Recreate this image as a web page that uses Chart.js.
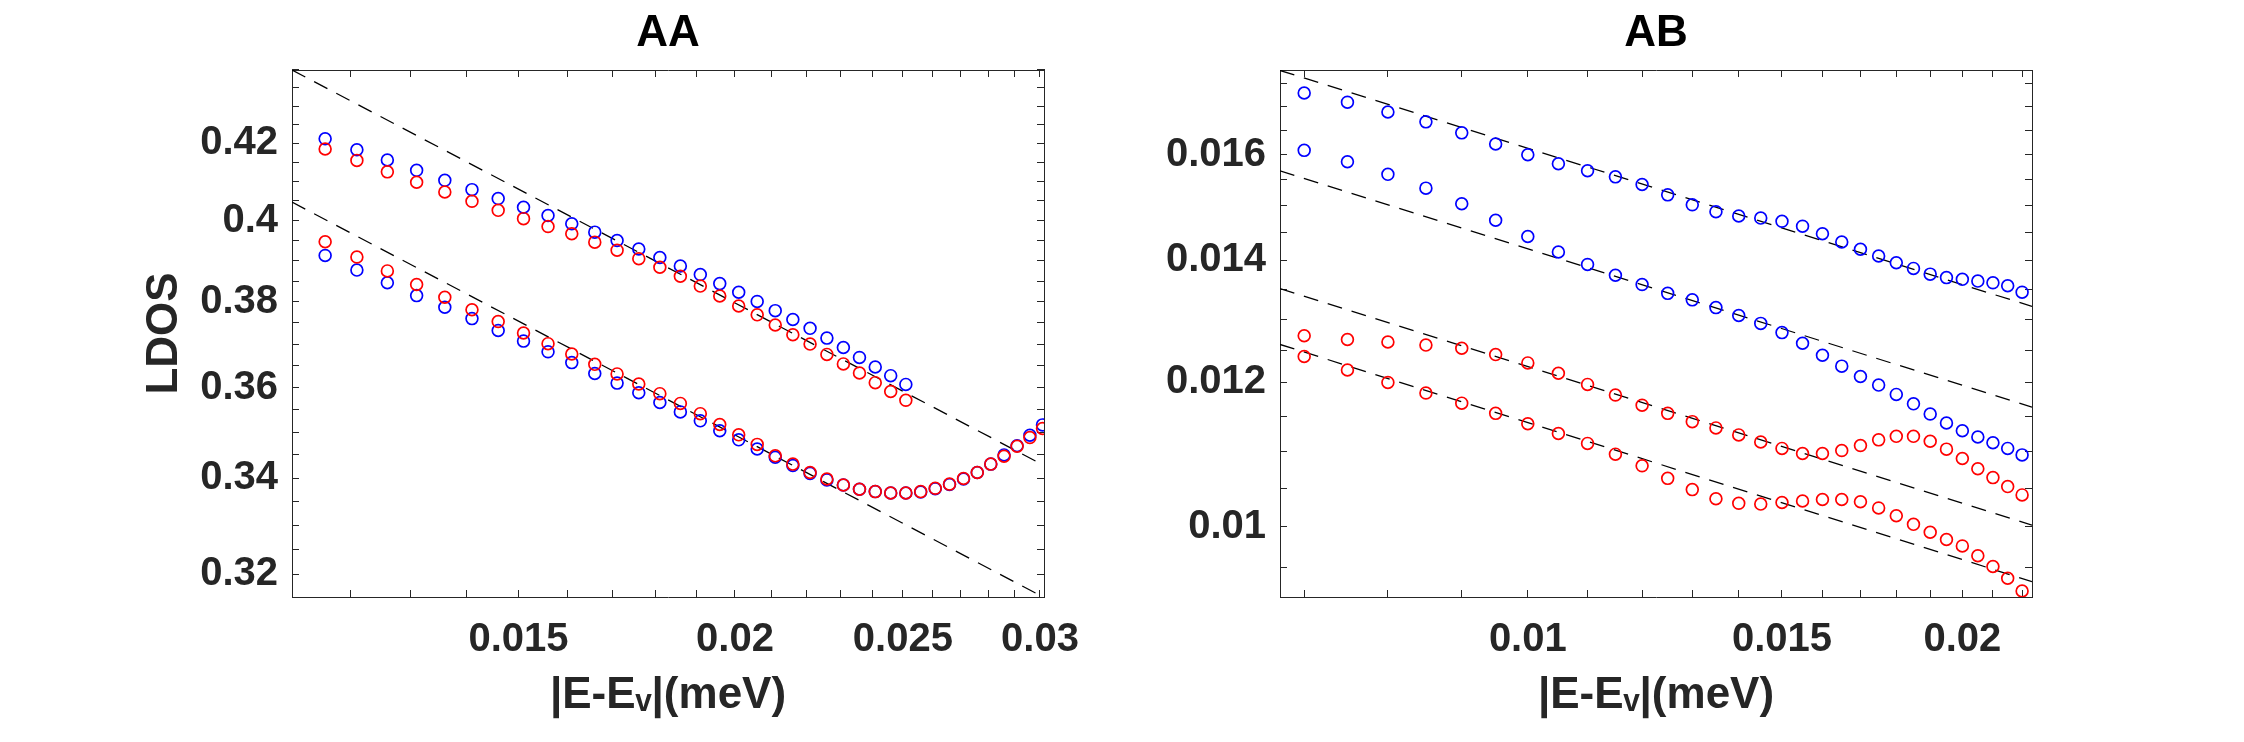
<!DOCTYPE html>
<html>
<head>
<meta charset="utf-8">
<script src="https://cdn.jsdelivr.net/npm/chart.js@4.4.1/dist/chart.umd.min.js"></script>
<style>
html,body{margin:0;padding:0;background:#fff;}
#wrap{position:relative;width:2244px;height:742px;background:#fff;}
canvas{position:absolute;top:0;}
</style>
</head>
<body>
<div id="wrap">
<canvas id="cAA" width="1122" height="742" style="left:0px"></canvas>
<canvas id="cAB" width="1122" height="742" style="left:1122px"></canvas>
</div>
<script>
// ---------- Panel AA data ----------
const aaX = [0.0116,0.0121,0.0126,0.0131,0.0136,0.0141,0.0146,0.0151,0.0156,0.0161,
             0.0166,0.0171,0.0176,0.0181,0.0186,0.0191,0.0196,0.0201,0.0206,0.0211,
             0.0216,0.0221,0.0226,0.0231,0.0236,0.0241,0.0246,0.0251,0.0256,0.0261,
             0.0266,0.0271,0.0276,0.0281,0.0286,0.0291,0.0296,0.0301];
const aaUpperBlue = [0.4212,0.4183,0.4156,0.4129,0.4103,0.4079,0.4056,0.4034,0.4013,0.3992,
                     0.3971,0.3950,0.3929,0.3908,0.3887,0.3866,0.3844,0.3823,0.3801,0.3779,
                     0.3758,0.3737,0.3714,0.3692,0.3669,0.3647,0.3627,0.3607];
const aaUpperRed = [0.4185,0.4155,0.4125,0.4098,0.4073,0.4049,0.4026,0.4005,0.3985,0.3967,
                    0.3946,0.3926,0.3905,0.3884,0.3862,0.3838,0.3814,0.3790,0.3769,0.3745,
                    0.3722,0.3700,0.3676,0.3654,0.3633,0.3611,0.3591,0.3571];
const aaLowerBlue = [0.3913,0.3877,0.3846,0.3815,0.3787,0.3760,0.3732,0.3707,0.3682,0.3657,
                     0.3632,0.3610,0.3588,0.3566,0.3545,0.3525,0.3503,0.3483,0.3463,0.3445,
                     0.3427,0.3410,0.3396,0.3385,0.3376,0.3371,0.3368,0.3368,0.3370,0.3377,
                     0.3386,0.3398,0.3412,0.3430,0.3450,0.3470,0.3493,0.3516];
const aaLowerRed = [0.3947,0.3909,0.3875,0.3842,0.3811,0.3781,0.3753,0.3726,0.3701,0.3677,
                    0.3653,0.3631,0.3608,0.3586,0.3564,0.3541,0.3517,0.3494,0.3473,0.3448,
                    0.3430,0.3412,0.3398,0.3385,0.3376,0.3371,0.3368,0.3368,0.3371,0.3378,
                    0.3387,0.3399,0.3412,0.3430,0.3447,0.3469,0.3488,0.3508];
const aaFitX = [0.0111, 0.0302];
const aaFitUpper = [0.4399, 0.3426];
const aaFitLower = [0.4047, 0.3152];
const aaXTicks = [0.012,0.013,0.014,0.015,0.016,0.017,0.018,0.019,0.020,0.021,
                  0.022,0.023,0.024,0.025,0.026,0.027,0.028,0.029,0.030];
const aaXTickLabels = [0.015, 0.02, 0.025, 0.03];
const aaYTicks = [0.320,0.325,0.330,0.335,0.340,0.345,0.350,0.355,0.360,0.365,0.370,0.375,
                  0.380,0.385,0.390,0.395,0.400,0.405,0.410,0.415,0.420,0.425,0.430,0.435,0.440];
const aaYTickLabels = [0.32, 0.34, 0.36, 0.38, 0.4, 0.42];
const aaXRange = [0.0111, 0.03016];
const aaYRange = [0.3154, 0.4399];

// ---------- Panel AB data ----------
const abX = [0.0070,0.0075,0.0080,0.0085,0.0090,0.0095,0.0100,0.0105,0.0110,0.0115,
             0.0120,0.0125,0.0130,0.0135,0.0140,0.0145,0.0150,0.0155,0.0160,0.0165,
             0.0170,0.0175,0.0180,0.0185,0.0190,0.0195,0.0200,0.0205,0.0210,0.0215,0.0220];
const abUpperBlue = [0.01730,0.01710,0.01689,0.01668,0.01645,0.01622,0.01600,0.01582,0.01568,0.01556,
                     0.01541,0.01521,0.01502,0.01489,0.01481,0.01477,0.01471,0.01462,0.01448,0.01433,
                     0.01420,0.01408,0.01396,0.01386,0.01376,0.01370,0.01367,0.01364,0.01361,0.01356,0.01345];
const abLowerBlue = [0.01609,0.01586,0.01561,0.01534,0.01504,0.01473,0.01443,0.01415,0.01393,0.01374,
                     0.01358,0.01343,0.01332,0.01319,0.01306,0.01293,0.01278,0.01261,0.01242,0.01225,
                     0.01209,0.01196,0.01182,0.01168,0.01153,0.01140,0.01129,0.01120,0.01112,0.01104,0.01095];
const abUpperRed = [0.01273,0.01267,0.01263,0.01258,0.01253,0.01243,0.01230,0.01214,0.01197,0.01181,
                    0.01166,0.01154,0.01142,0.01133,0.01123,0.01113,0.01104,0.01097,0.01097,0.01101,
                    0.01108,0.01116,0.01121,0.01121,0.01114,0.01103,0.01090,0.01076,0.01064,0.01052,0.01041];
const abLowerRed = [0.01240,0.01219,0.01200,0.01184,0.01169,0.01154,0.01139,0.01125,0.01111,0.01096,
                    0.01080,0.01063,0.01048,0.01036,0.01030,0.01029,0.01031,0.01033,0.01035,0.01035,
                    0.01032,0.01024,0.01014,0.01003,0.00993,0.00984,0.00976,0.00964,0.00951,0.00937,0.00922];
const abFitX = [0.006735, 0.02235];
const abFitA = [0.01780, 0.01321];
const abFitB = [0.01568, 0.01163];
const abFitC = [0.01351, 0.01002];
const abFitD = [0.01259, 0.00933];
const abXTicks = [0.007,0.008,0.009,0.010,0.011,0.012,0.013,0.014,0.015,0.016,
                  0.017,0.018,0.019,0.020,0.021,0.022];
const abXTickLabels = [0.01, 0.015, 0.02];
const abYTicks = [0.0095,0.0100,0.0105,0.0110,0.0115,0.0120,0.0125,0.0130,0.0135,
                  0.0140,0.0145,0.0150,0.0155,0.0160,0.0165,0.0170,0.0175];
const abYTickLabels = [0.01, 0.012, 0.014, 0.016];
const abXRange = [0.006735, 0.02235];
const abYRange = [0.00915, 0.01781];

// ---------- styling / helpers ----------
const FONT = "'Liberation Sans', Arial, Helvetica, sans-serif";
const AXC = '#262626';
const BLUE = '#0000ff';
const RED = '#ff0000';

const pts = (xs, ys) => ys.map((y, i) => ({x: xs[i], y: y}));
const findLabel = (v, list) => list.find(l => Math.abs(l - v) < 1e-9);

function markerSet(label, xs, ys, color) {
  return {
    label, data: pts(xs, ys), showLine: false,
    pointStyle: 'circle', pointRadius: 5.9, pointHoverRadius: 5.9,
    pointBorderWidth: 1.7, pointBorderColor: color,
    pointBackgroundColor: 'rgba(0,0,0,0)',
    borderColor: color, backgroundColor: 'rgba(0,0,0,0)'
  };
}
function fitSet(label, xs, ys) {
  return {
    label, data: pts(xs, ys), showLine: true, fill: false,
    borderColor: '#000', borderWidth: 1.3, borderDash: [15, 10],
    pointRadius: 0, pointHoverRadius: 0
  };
}
function gridOpts() {
  return {display: true, drawOnChartArea: false, drawTicks: true, tickLength: -7,
          tickColor: AXC, tickWidth: 1, color: AXC, lineWidth: 1};
}
function logAxis(position, range, tickVals, labelVals, sizeFn, pad, title) {
  const ax = {
    type: 'logarithmic', position: position, min: range[0], max: range[1],
    grid: gridOpts(),
    border: {display: true, color: AXC, width: 1},
    afterBuildTicks: s => { s.ticks = tickVals.map(v => ({value: v})); },
    afterFit: sizeFn
  };
  if (labelVals) {
    ax.ticks = {
      display: true, autoSkip: false, maxRotation: 0, minRotation: 0,
      padding: pad, color: AXC,
      font: {family: FONT, size: 40, weight: 'bold'},
      callback: v => { const l = findLabel(v, labelVals); return l === undefined ? '' : String(l); }
    };
  } else {
    ax.ticks = {display: false};
  }
  if (title) ax.title = title;
  return ax;
}

function makePanel(id, cfg) {
  const xTitle = {
    display: true, text: '|E-E\u1d65|(meV)', color: AXC,
    font: {family: FONT, size: 44, weight: 'bold'},
    padding: {top: 0, bottom: 20}
  };
  const yTitle = cfg.yTitle ? {
    display: true, text: cfg.yTitle, color: AXC,
    font: {family: FONT, size: 44, weight: 'bold'},
    padding: {top: 138, bottom: 0}
  } : undefined;
  return new Chart(document.getElementById(id), {
    type: 'scatter',
    data: {datasets: cfg.datasets},
    options: {
      responsive: false, animation: false, devicePixelRatio: 1,
      layout: {padding: {left: 0, top: 0, bottom: 0, right: cfg.padRight}},
      plugins: {
        legend: {display: false},
        tooltip: {enabled: false},
        title: {
          display: true, text: cfg.title, color: '#000', fullSize: false,
          font: {family: FONT, size: 44, weight: 'bold'},
          padding: {top: 7, bottom: 10.2}
        }
      },
      scales: {
        x: logAxis('bottom', cfg.xRange, cfg.xTicks, cfg.xLabels, s => { s.height = 145; }, 26, xTitle),
        x2: logAxis('top', cfg.xRange, cfg.xTicks, null, s => { s.height = 0; }, 0),
        y: logAxis('left', cfg.yRange, cfg.yTicks, cfg.yLabels, s => { s.width = cfg.yWidth; }, 21, yTitle),
        y2: logAxis('right', cfg.yRange, cfg.yTicks, null, s => { s.width = 0; }, 0)
      }
    }
  });
}

makePanel('cAA', {
  title: 'AA', yTitle: 'LDOS', yWidth: 292, padRight: 78,
  xRange: aaXRange, yRange: aaYRange,
  xTicks: aaXTicks, xLabels: aaXTickLabels, yTicks: aaYTicks, yLabels: aaYTickLabels,
  datasets: [
    markerSet('AA lower red', aaX, aaLowerRed, RED),
    markerSet('AA upper red', aaX, aaUpperRed, RED),
    markerSet('AA lower blue', aaX, aaLowerBlue, BLUE),
    markerSet('AA upper blue', aaX, aaUpperBlue, BLUE),
    fitSet('AA fit upper', aaFitX, aaFitUpper),
    fitSet('AA fit lower', aaFitX, aaFitLower)
  ]
});

makePanel('cAB', {
  title: 'AB', yTitle: null, yWidth: 158, padRight: 212,
  xRange: abXRange, yRange: abYRange,
  xTicks: abXTicks, xLabels: abXTickLabels, yTicks: abYTicks, yLabels: abYTickLabels,
  datasets: [
    markerSet('AB lower red', abX, abLowerRed, RED),
    markerSet('AB upper red', abX, abUpperRed, RED),
    markerSet('AB lower blue', abX, abLowerBlue, BLUE),
    markerSet('AB upper blue', abX, abUpperBlue, BLUE),
    fitSet('AB fit A', abFitX, abFitA),
    fitSet('AB fit B', abFitX, abFitB),
    fitSet('AB fit C', abFitX, abFitC),
    fitSet('AB fit D', abFitX, abFitD)
  ]
});
</script>
</body>
</html>
